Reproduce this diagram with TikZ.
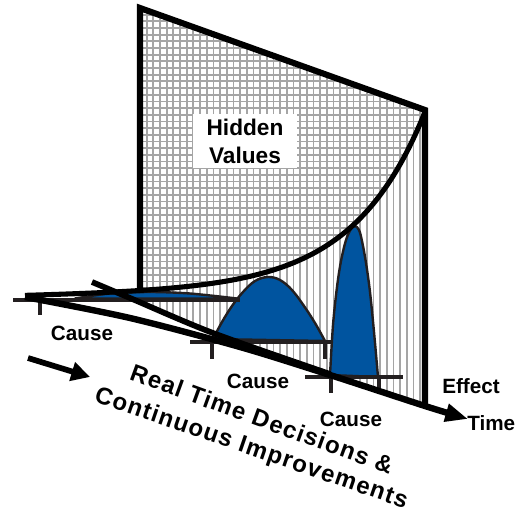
\documentclass[tikz,border=0pt]{standalone}
\usepackage{fontspec}
\setmainfont{Liberation Sans}
\usetikzlibrary{arrows.meta}
\definecolor{dblue}{RGB}{0,84,159}
\definecolor{outl}{RGB}{35,31,32}
\definecolor{gridg}{RGB}{165,165,165}
\begin{document}
\begin{tikzpicture}[x=0.75pt,y=-0.75pt,
  declare function={ecurve(\x)=288+0.02*(425-\x)-176*exp(0.014*(\x-425));},
  gline/.style={gridg,line width=1.3pt},
  thick line/.style={line width=4.3pt,black},
  baseln/.style={line width=2.3pt,outl},
  bell/.style={fill=dblue,draw=outl,line width=1.8pt,line join=round},
  lbl/.style={font=\bfseries\fontsize{15.5}{18}\selectfont,inner sep=0pt},
  slant/.style={font=\bfseries\fontsize{18}{22}\selectfont\addfontfeatures{LetterSpace=5},inner sep=0pt}]
\useasboundingbox (0,0) rectangle (516,509);

% named points
\coordinate (tl) at (140,8);
\coordinate (tr) at (425,110);
\coordinate (br) at (425,407);
\coordinate (lb) at (140,290);
\coordinate (aS) at (25,297);
\coordinate (aE) at (468,419);
\coordinate (bS) at (92,282);
\coordinate (bE) at (330,374);

% grid region above the curve
\begin{scope}
\clip (tl) -- (tr) -- plot[domain=425:140,samples=80] (\x,{ecurve(\x)}) -- cycle;
\foreach \i in {0,...,44} \draw[gline] ({140+\i*6.67},0) -- ++(0,420);
\foreach \j in {0,...,45} \draw[gline] (130,{8+\j*6.67}) -- (435,{8+\j*6.67});
\end{scope}

% vertical lines below the curve
\begin{scope}
\clip plot[domain=140:425,samples=80] (\x,{ecurve(\x)}) -- (425,407) -- (330,374) -- (213,333) -- (140,301) -- cycle;
\foreach \i in {0,...,44} \draw[gline] ({140+\i*6.67},0) -- ++(0,420);
\end{scope}

% distributions
\draw[bell] plot[smooth] coordinates {(75,298.5) (110,293.5) (150,292) (190,293.5) (237,298.5)} -- cycle;
\draw[bell] plot[smooth,tension=0.6] coordinates {(213,339) (222,322) (232,306) (243,292) (255,281) (268,277) (280,280) (292,290) (304,306) (315,323) (325,341)} -- cycle;
\draw[bell] plot[smooth,tension=0.55] coordinates {(330,375) (333,325) (337,287) (341,261) (346,240) (351,229) (355,226) (359,230) (362,241) (366,263) (370,292) (374,332) (378,377)} -- cycle;

% exponential curve
\draw[line width=3.8pt] plot[domain=25:425,samples=100] (\x,{ecurve(\x)});

% baselines and ticks
\draw[baseln] (13,300) -- (240,300);
\draw[baseln] (40,300) -- (40,315);
\draw[baseln] (190,342) -- (332,342);
\draw[baseln] (212,342) -- (212,359);
\draw[baseln] (325,342) -- (325,359);
\draw[baseln] (305,377) -- (403,377);
\draw[baseln] (331,377) -- (331,393);
\draw[baseln] (379,377) -- (379,393);

% slanted lines
\draw[thick line] plot[smooth] coordinates {(bS) (130,298) (213,333) (bE)};
\draw[line width=4.8pt,-{Triangle[length=17pt,width=13pt]}] plot[smooth] coordinates {(aS) (130,318) (240,347) (330,375) (425,406) (aE)};

% panel edges
\draw[line width=4.6pt,line join=miter] (lb) -- (tl) -- (tr) -- (br);

% left arrow
\coordinate (la1) at (28,358);
\coordinate (la2) at (90,377);
\draw[line width=4.3pt,-{Triangle[length=14pt,width=14pt]}] (la1) -- (la2);

% labels
\node[fill=white,minimum width=78pt,minimum height=40pt,inner sep=0pt,align=center,
  font=\bfseries\fontsize{17}{21}\selectfont] (hv) at (245,141) {Hidden\\Values};
\node[lbl] (c1) at (82,333) {Cause};
\node[lbl] (c2) at (258,381) {Cause};
\node[lbl] (c3) at (351,419) {Cause};
\node[lbl] (ef) at (471,386) {Effect};
\node[lbl,anchor=west] (tm) at (467,423) {Time};
\node[slant,rotate=-20] (rt) at (262,419) {Real Time Decisions \&};
\node[slant,rotate=-19] (ci) at (251,449) {Continuous Improvements};
\end{tikzpicture}
\end{document}
